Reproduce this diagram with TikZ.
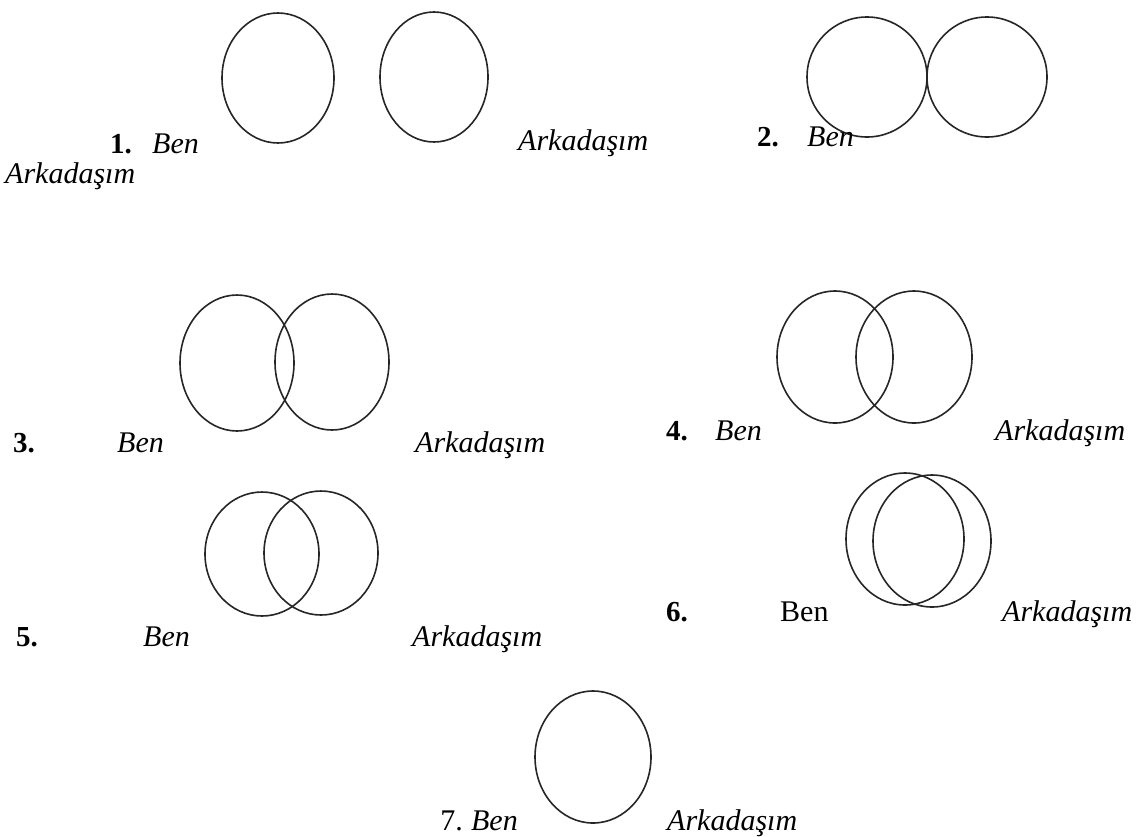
\documentclass[tikz,border=0pt]{standalone}
\usepackage{fontspec}
\setmainfont{Liberation Serif}
\begin{document}
\begin{tikzpicture}[x=1pt,y=-1pt,
  ring/.style={draw=black!85,line width=1.6pt},
  lbl/.style={anchor=base west,inner sep=0pt,font=\fontsize{30}{30}\selectfont\itshape},
  rlbl/.style={anchor=base west,inner sep=0pt,font=\fontsize{30}{30}\selectfont},
  num/.style={anchor=base west,inner sep=0pt,font=\fontsize{29}{29}\selectfont\bfseries}]
\useasboundingbox (0,0) rectangle (1142,836);
% 1
\draw[ring] (278,78) ellipse [x radius=56, y radius=65];
\draw[ring] (434,77) ellipse [x radius=54, y radius=65];
\node[num] (n1) at (110,153) {1.};
\node[lbl] (b1) at (152,153) {Ben};
\node[lbl] (a1) at (518,150) {Arkadaşım};
\node[lbl] (a1b) at (5,183) {Arkadaşım};
% 2
\draw[ring] (867,77) circle [radius=60];
\draw[ring] (987,77) circle [radius=60];
\node[num] (n2) at (757,146) {2.};
\node[lbl] (b2) at (807,146) {Ben};
% 3
\draw[ring] (237,363) ellipse [x radius=57, y radius=68];
\draw[ring] (332,362) ellipse [x radius=57, y radius=68];
\node[num] (n3) at (13,452) {3.};
\node[lbl] (b3) at (117,452) {Ben};
\node[lbl] (a3) at (415,452) {Arkadaşım};
% 4
\draw[ring] (835,357) ellipse [x radius=58, y radius=66];
\draw[ring] (914,357) ellipse [x radius=58, y radius=66];
\node[num] (n4) at (666,440) {4.};
\node[lbl] (b4) at (715,440) {Ben};
\node[lbl] (a4) at (995,440) {Arkadaşım};
% 5
\draw[ring] (262,554) ellipse [x radius=57, y radius=62];
\draw[ring] (321,553) ellipse [x radius=57, y radius=62];
\node[num] (n5) at (16,646) {5.};
\node[lbl] (b5) at (143,646) {Ben};
\node[lbl] (a5) at (412,646) {Arkadaşım};
% 6
\draw[ring] (905,539) ellipse [x radius=59, y radius=66];
\draw[ring] (932,541) ellipse [x radius=59, y radius=66];
\node[num] (n6) at (666,621) {6.};
\node[rlbl] (b6) at (780,621) {Ben};
\node[lbl] (a6) at (1002,621) {Arkadaşım};
% 7
\draw[ring] (593,757) ellipse [x radius=58, y radius=66];
\node[rlbl,anchor=base east] (n7) at (463,830) {7.};
\node[lbl,anchor=base east] (b7) at (518,830) {Ben};
\node[lbl] (a7) at (667,830) {Arkadaşım};
\end{tikzpicture}
\end{document}
